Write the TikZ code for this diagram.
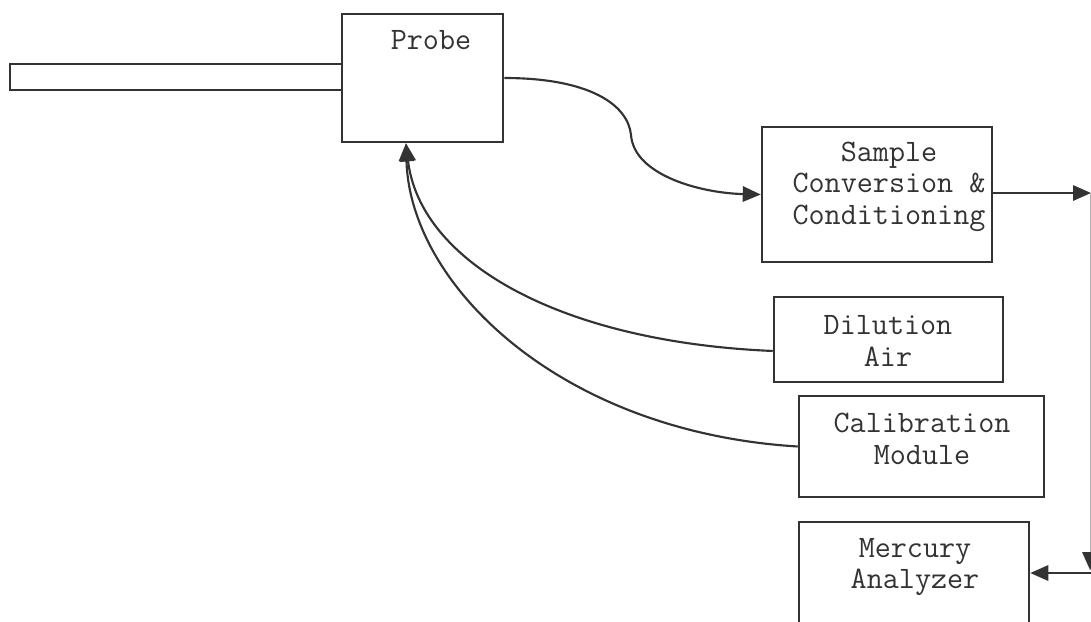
\documentclass[tikz,border=0pt]{standalone}
\usepackage{fontspec}
\usetikzlibrary{arrows.meta}
\definecolor{ink}{HTML}{333333}
\begin{document}
\begin{tikzpicture}[x=0.75pt,y=-0.75pt,
  box/.style={draw=ink,line width=1.9pt,rectangle,inner sep=0pt},
  lbl/.style={text=ink,align=center,inner sep=0pt,font=\ttfamily\fontsize{23.4}{23.6}\selectfont},
  arr/.style={draw=ink,line width=1.6pt,-{Triangle[length=13.5pt,width=11.5pt]}},
  ln/.style={draw=ink,line width=1.6pt}]
\useasboundingbox (0,0) rectangle (1091,621);
\clip (0,0) rectangle (1091,621);
\fill[white] (0,0) rectangle (1091,621);
% boxes
\node[box,minimum width=249pt,minimum height=19.5pt] (tube) at (176,77) {};
\node[box,fill=white,minimum width=120.75pt,minimum height=96pt] (probe) at (422.5,78) {};
\node[box,minimum width=172.5pt,minimum height=101.25pt] (sample) at (877,194.5) {};
\node[box,minimum width=171.75pt,minimum height=63.75pt] (dil) at (888.5,339.5) {};
\node[box,minimum width=183.75pt,minimum height=75.75pt] (cal) at (921.5,446.5) {};
\node[box,minimum width=172.5pt,minimum height=90pt] (merc) at (914,582) {};
% labels
\node[lbl] (probet) at (431,40) {Probe};
\node[lbl] (samplet) at (889,186.5) {Sample\\Conversion \&\\Conditioning};
\node[lbl] (dilt) at (888,341) {Dilution\\Air};
\node[lbl] (calt) at (922,439) {Calibration\\Module};
\node[lbl] (merct) at (915,567) {Mercury\\Analyzer};
% coordinates at the picture edge
\coordinate (redge) at (1091,193);
\coordinate (rtop) at (1090,193);
\coordinate (rbot) at (1090,570);
\coordinate (rmid) at (1091,573);
% connectors
\draw[arr] (probe.east) .. controls (590,78) and (628,105) .. (631,135)
  .. controls (634,175) and (700,193) .. (sample.west);
\draw[arr] ([yshift=-8.6pt]dil.west) .. controls (560,342) and (420,262) .. ([xshift=-12.4pt]probe.south);
\draw[arr] (cal.west) .. controls (560,432) and (410,285) .. ([xshift=-12.4pt]probe.south);
\draw[arr] (sample.east |- redge) -- (redge);
\draw[ln,line width=0.6pt,draw=gray!60] (rtop) -- (rbot);
\draw[arr] ([yshift=12pt]rbot) -- (rbot);
\draw[arr] (rmid) -- (merc.east |- rmid);
\end{tikzpicture}
\end{document}
